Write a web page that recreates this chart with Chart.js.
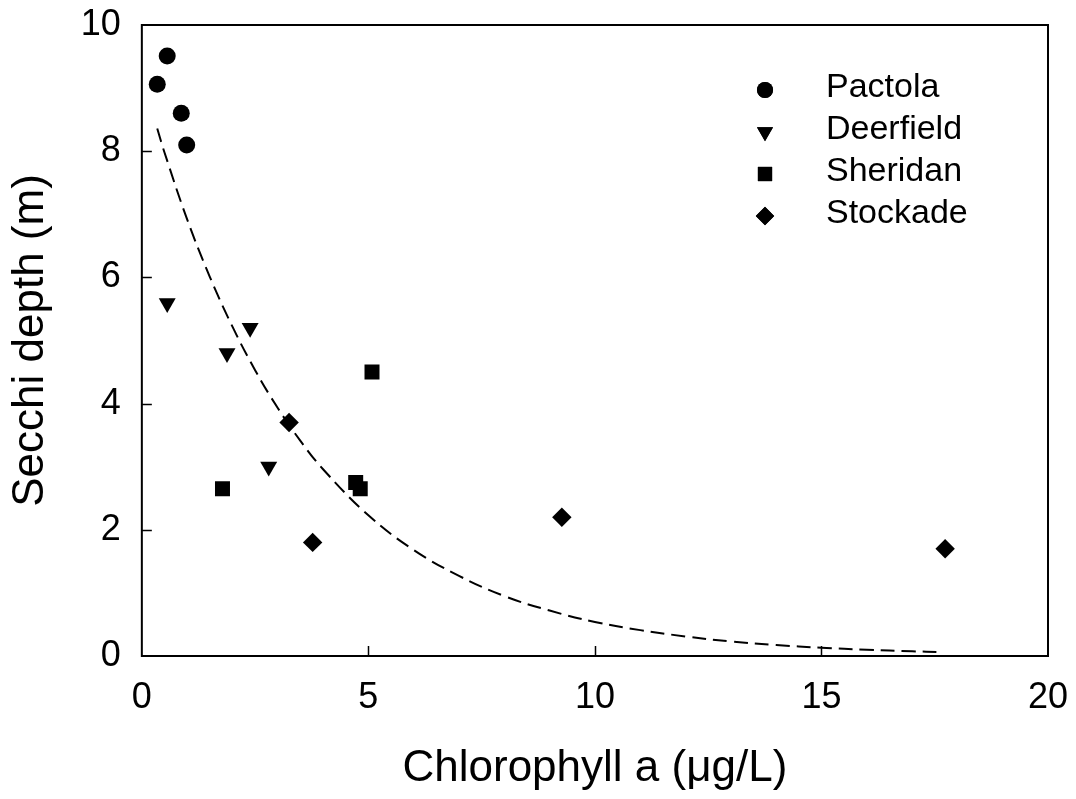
<!DOCTYPE html>
<html>
<head>
<meta charset="utf-8">
<script src="https://cdn.jsdelivr.net/npm/chart.js@4"></script>
<style>
  html, body { margin: 0; padding: 0; background: #fff; }
  #wrap { width: 1076px; height: 799px; }
</style>
</head>
<body>
<div id="wrap"><canvas id="secchiChart" width="1076" height="799"></canvas></div>
<script>
const pactolaX = [0.56, 0.34, 0.87, 0.99]
const pactolaY = [9.51, 9.06, 8.6, 8.1]
const deerfieldX = [0.56, 2.39, 1.88, 2.8]
const deerfieldY = [5.59, 5.2, 4.8, 3.0]
const sheridanX = [5.08, 1.78, 4.72, 4.82]
const sheridanY = [4.5, 2.65, 2.75, 2.65]
const stockadeX = [3.25, 3.77, 9.27, 17.73]
const stockadeY = [3.7, 1.8, 2.2, 1.7]

// dashed fit line
const fitX = [0.34, 0.5, 1, 1.5, 2, 2.5, 3, 3.5, 4, 5, 6, 7, 8, 9, 10, 11, 12, 13, 14, 15, 16, 17, 17.62]
const fitY = [8.36, 7.98, 6.92, 6.01, 5.22, 4.53, 3.93, 3.41, 2.96, 2.23, 1.68, 1.27, 0.95, 0.72, 0.54, 0.41, 0.31, 0.23, 0.175, 0.13, 0.1, 0.075, 0.063]

const xTicks = [0, 5, 10, 15, 20]
const yTicks = [0, 2, 4, 6, 8, 10]

const FONT = "'Liberation Sans', Arial, sans-serif"

const toPoints = (xs, ys) => xs.map((x, i) => ({ x: x, y: ys[i] }))

const marker = (label, xs, ys, style, r, rot) => ({
    label: label,
    data: toPoints(xs, ys),
    pointStyle: style,
    pointRadius: r,
    pointRotation: rot || 0,
    backgroundColor: "#000",
    borderColor: "#000",
    borderWidth: 0,
    showLine: false,
})

// frame + inward tick marks
const framePlugin = {
    id: "frame",
    afterDatasetsDraw(chart) {
        const { ctx, chartArea, scales } = chart
        ctx.save()
        ctx.strokeStyle = "#000"
        ctx.lineWidth = 1.5
        ctx.beginPath()
        xTicks.slice(1, -1).forEach((v) => {
            const px = Math.round(scales.x.getPixelForValue(v)) + 0.5
            ctx.moveTo(px, chartArea.bottom)
            ctx.lineTo(px, chartArea.bottom - 10)
        })
        yTicks.slice(1, -1).forEach((v) => {
            const py = Math.round(scales.y.getPixelForValue(v)) + 0.5
            ctx.moveTo(chartArea.left, py)
            ctx.lineTo(chartArea.left + 10, py)
        })
        ctx.stroke()
        ctx.lineWidth = 2
        ctx.strokeRect(chartArea.left, chartArea.top, chartArea.right - chartArea.left, chartArea.bottom - chartArea.top)
        ctx.restore()
    },
}

// legend inside plot, top right
const legendPlugin = {
    id: "insideLegend",
    afterDraw(chart) {
        const { ctx } = chart
        ctx.save()
        ctx.font = "34px " + FONT
        ctx.textBaseline = "middle"
        ctx.textAlign = "left"
        ctx.fillStyle = "#000"
        chart.data.datasets.slice(0, 4).forEach((ds, i) => {
            const y = 88 + i * 42
            Chart.helpers.drawPoint(ctx, {
                pointStyle: ds.pointStyle,
                radius: ds.pointRadius * 0.95,
                rotation: ds.pointRotation,
                borderWidth: 0,
            }, 765, y + 2)
            ctx.fill()
            ctx.fillText(ds.label, 826, y)
        })
        ctx.restore()
    },
}

const noOverflow = (s) => {
    s.paddingTop = 0
    s.paddingRight = 0
}

new Chart(document.getElementById("secchiChart"), {
    type: "scatter",
    data: {
        datasets: [
            marker("Pactola", pactolaX, pactolaY, "circle", 8.5),
            marker("Deerfield", deerfieldX, deerfieldY, "triangle", 9.8, 180),
            marker("Sheridan", sheridanX, sheridanY, "rect", 10.6),
            marker("Stockade", stockadeX, stockadeY, "rectRot", 9.7),
            {
                label: "fit",
                data: toPoints(fitX, fitY),
                showLine: true,
                borderColor: "#000",
                borderWidth: 2,
                borderDash: [14, 7],
                pointRadius: 0,
                tension: 0.4,
                fill: false,
            },
        ],
    },
    options: {
        responsive: false,
        animation: false,
        layout: { padding: { top: 25, right: 28, bottom: 0, left: 0 } },
        plugins: {
            legend: { display: false },
            tooltip: { enabled: false },
        },
        scales: {
            x: {
                type: "linear",
                min: 0,
                max: 20,
                afterBuildTicks: (s) => { s.ticks = xTicks.map((v) => ({ value: v })) },
                afterFit: noOverflow,
                grid: { display: false, drawTicks: false },
                border: { display: false },
                ticks: { color: "#000", padding: 20, font: { family: FONT, size: 36 } },
                title: {
                    display: true,
                    text: "Chlorophyll a (μg/L)",
                    color: "#000",
                    font: { family: FONT, size: 44 },
                    padding: { top: 3, bottom: 4 },
                },
            },
            y: {
                type: "linear",
                min: 0,
                max: 10,
                afterBuildTicks: (s) => { s.ticks = yTicks.map((v) => ({ value: v })) },
                afterFit: noOverflow,
                grid: { display: false, drawTicks: false },
                border: { display: false },
                ticks: { color: "#000", padding: 21, font: { family: FONT, size: 36 } },
                title: {
                    display: true,
                    text: "Secchi depth (m)",
                    color: "#000",
                    font: { family: FONT, size: 44 },
                    padding: { top: 4, bottom: 3 },
                },
            },
        },
    },
    plugins: [framePlugin, legendPlugin],
})
</script>
</body>
</html>
